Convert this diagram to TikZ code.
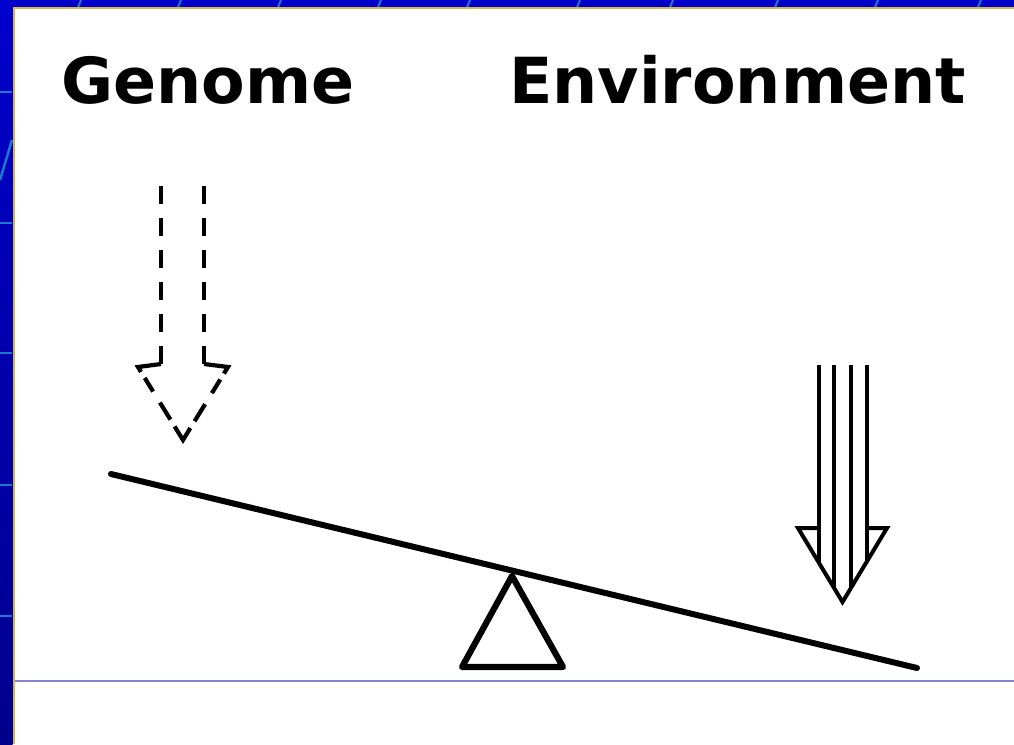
\documentclass[tikz,border=0pt]{standalone}
\usepackage{fontspec}
\setmainfont{DejaVu Sans}
\definecolor{frameblue}{RGB}{0,0,204}
\definecolor{frameblueD}{RGB}{0,0,140}
\definecolor{gridblue}{RGB}{30,120,208}
\definecolor{gold}{RGB}{216,184,72}
\definecolor{rule}{RGB}{130,130,210}
\tikzset{
  title/.style={font=\fontsize{63.5}{70}\selectfont\bfseries, inner sep=0pt, anchor=base west},
  dashedarrow/.style={line width=4.2pt},
  solidarrow/.style={line width=4pt, line join=miter},
  beamline/.style={line width=6pt, line cap=round},
  fulcrum/.style={line width=6.2pt, line join=round},
  gridline/.style={gridblue, line width=2.5pt}
}
\begin{document}
\begin{tikzpicture}[x=1pt,y=-1pt]
\useasboundingbox (0,0) rectangle (1014,744);
\fill[white] (0,0) rectangle (1014,744);
% frame
\fill[frameblue] (0,0) rectangle (1014,8);
\shade[top color=frameblue, bottom color=frameblueD] (0,0) rectangle (12.5,744);
\foreach \y in {92,223,353,485,616} \draw[gridline] (0,\y) -- (12,\y);
\draw[gridline] (0,180) -- (12,140);
\foreach \x in {78,178,278,378,467,577,670,775,875,978} \draw[gridline, line width=2pt] (\x,7.5) -- (\x+3,0);
\draw[gold, line width=2pt] (13.5,744) -- (13.5,8) -- (1014,8);
% bottom rule
\draw[rule, line width=1.3pt] (14.5,681) -- (1014,681);
% titles
\node[title] (genome) at (61,103) {Genome};
\node[title] (env) at (509,103) {Environment};
% dashed arrow (genome)
\draw[dashedarrow, dash pattern=on 18pt off 14pt] (161,186) -- (161,364);
\draw[dashedarrow, dash pattern=on 18pt off 14pt] (204,186) -- (204,364);
\draw[dashedarrow, dash pattern=on 29pt off 7pt on 16pt off 13pt on 20pt off 8pt on 30pt off 8pt on 20pt off 13pt on 16pt off 7pt on 40pt]
  (161,364) -- (138,367) -- (183,440) -- (228,367) -- (204,364);
% solid arrow (environment)
\draw[solidarrow] (818.5,365) -- (818.5,562);
\draw[solidarrow] (834,365) -- (834,588);
\draw[solidarrow] (851,365) -- (851,588);
\draw[solidarrow] (866.5,365) -- (866.5,562);
\draw[solidarrow] (818.5,528) -- (798,528) -- (842.5,602) -- (887,528) -- (866.5,528);
% seesaw
\draw[fulcrum] (512,576) -- (462,667) -- (563,667) -- cycle;
\draw[beamline] (111,474) -- (917,668);
\end{tikzpicture}
\end{document}
